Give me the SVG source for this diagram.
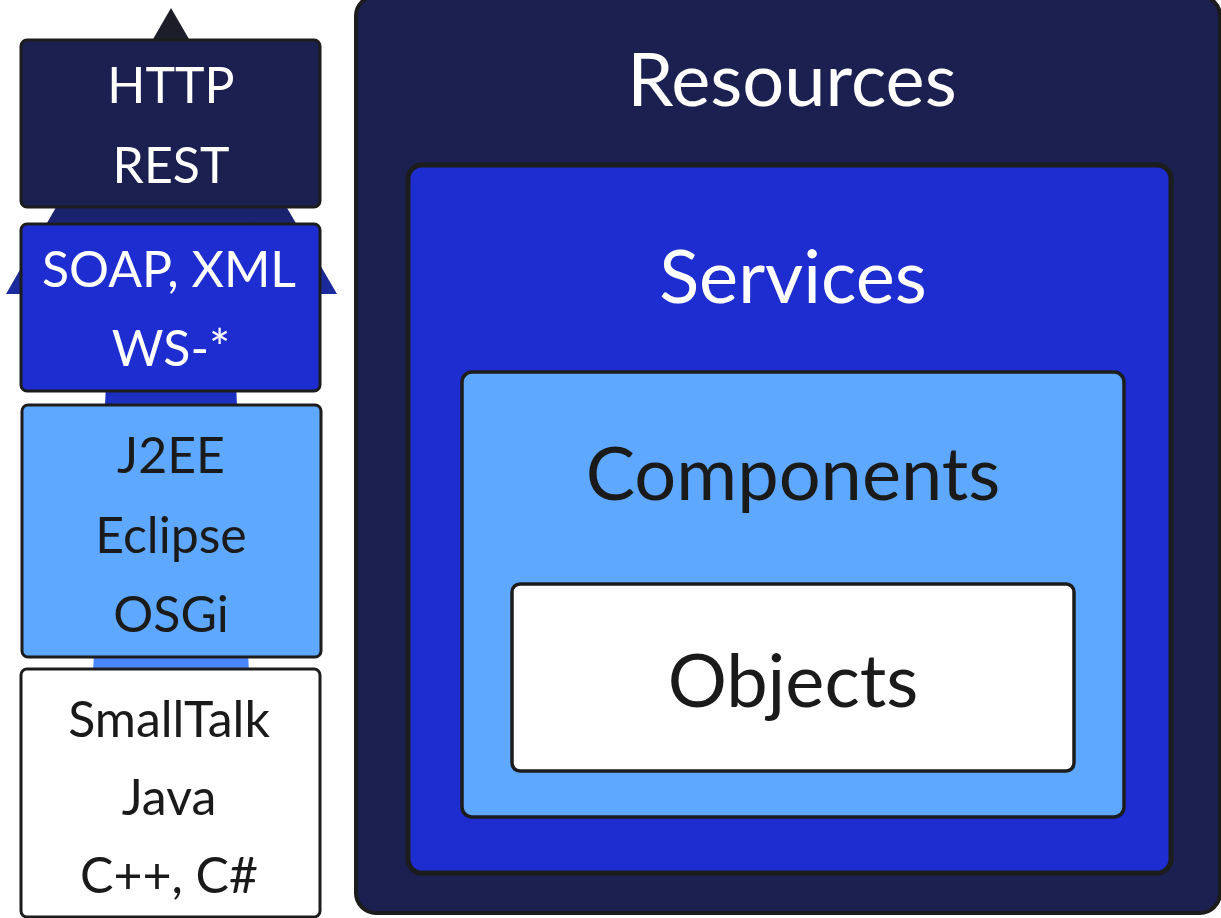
<svg xmlns="http://www.w3.org/2000/svg" width="1221" height="918" viewBox="0 0 1221 918">
  <defs>
    <linearGradient id="arrowGrad" gradientUnits="userSpaceOnUse" x1="0" y1="8" x2="0" y2="918">
      <stop offset="0" stop-color="#1d1d26"/>
      <stop offset="0.13" stop-color="#1c1f3a"/>
      <stop offset="0.23" stop-color="#1b2370"/>
      <stop offset="0.30" stop-color="#1b2a9a"/>
      <stop offset="0.42" stop-color="#1b2dbf"/>
      <stop offset="0.72" stop-color="#4a88ff"/>
      <stop offset="1" stop-color="#6aaaff"/>
    </linearGradient>
  </defs>
  <style>
    .box { stroke: #1c1c1c; stroke-width: 3; }
    .navy { fill: #1b2050; }
    .blue { fill: #1d2dcf; }
    .light { fill: #5ea8ff; }
    .white { fill: #ffffff; }
    text { font-family: Lato, "Open Sans", "Liberation Sans", sans-serif; text-anchor: middle; }
    .small { font-size: 50px; }
    .big { font-size: 74px; }
    .tw { fill: #ffffff; }
    .td { fill: #1a1a1a; }
  </style>
  <rect width="1221" height="918" fill="#ffffff"/>

  <g id="connectors">
    <path d="M171,8 L337,294 L232,294 L260,918 L82,918 L110,294 L6,294 Z" fill="url(#arrowGrad)"/>
  </g>

  <g id="node-http">
    <rect class="box navy" x="21" y="40" width="299" height="167" rx="6"/>
    <text class="small tw" x="171" y="103">HTTP</text>
    <text class="small tw" x="171" y="183">REST</text>
  </g>
  <g id="node-soap">
    <rect class="box blue" x="21" y="224" width="299" height="167" rx="6"/>
    <text class="small tw" x="169" y="287">SOAP, XML</text>
    <text class="small tw" x="171" y="366">WS-*</text>
  </g>
  <g id="node-j2ee">
    <rect class="box light" x="22" y="405" width="299" height="252" rx="6"/>
    <text class="small td" x="171" y="473">J2EE</text>
    <text class="small td" x="171" y="553">Eclipse</text>
    <text class="small td" x="171" y="632">OSGi</text>
  </g>
  <g id="node-smalltalk">
    <rect class="box white" x="21" y="669" width="299" height="248" rx="6"/>
    <text class="small td" x="169" y="737">SmallTalk</text>
    <text class="small td" x="169" y="815">Java</text>
    <text class="small td" x="169" y="893">C++, C#</text>
  </g>

  <g id="node-resources">
    <rect class="navy" x="356" y="-4" width="864" height="917" rx="20" stroke="#1c1c1c" stroke-width="4"/>
    <text class="big tw" x="792" y="106">Resources</text>
  </g>
  <g id="node-services">
    <rect class="blue" x="408" y="165" width="763" height="708" rx="14" stroke="#1c1c1c" stroke-width="5"/>
    <text class="big tw" x="793" y="303">Services</text>
  </g>
  <g id="node-components">
    <rect class="light" x="462" y="372" width="662" height="445" rx="10" stroke="#1c1c1c" stroke-width="3.5"/>
    <text class="big td" x="793" y="500">Components</text>
  </g>
  <g id="node-objects">
    <rect class="white" x="512" y="584" width="562" height="187" rx="8" stroke="#1c1c1c" stroke-width="3.5"/>
    <text class="big td" x="793" y="707">Objects</text>
  </g>
</svg>
